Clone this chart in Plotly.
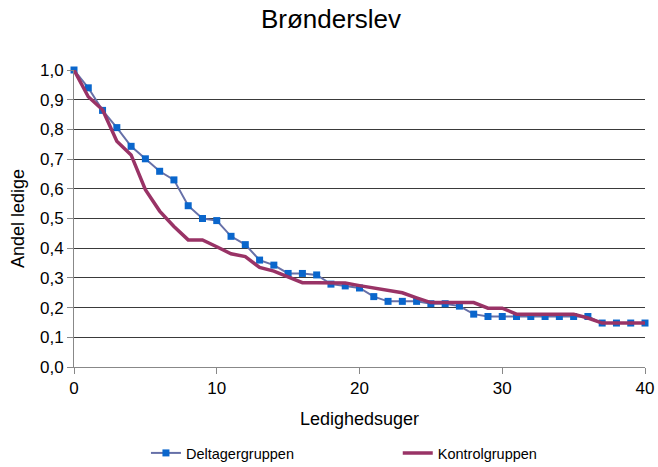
import plotly.graph_objects as go

# Ledighedsuger 0..40
weeks = list(range(41))

deltager = [1.0, 0.94, 0.864, 0.806, 0.743, 0.701, 0.659, 0.63, 0.543, 0.5,
            0.493, 0.44, 0.412, 0.36, 0.343, 0.315, 0.315, 0.31, 0.279, 0.273,
            0.266, 0.237, 0.221, 0.221, 0.221, 0.213, 0.213, 0.205, 0.178, 0.17,
            0.17, 0.17, 0.17, 0.17, 0.17, 0.17, 0.17, 0.148, 0.148, 0.148, 0.148]

kontrol = [1.0, 0.91, 0.866, 0.76, 0.714, 0.597, 0.525, 0.473, 0.428, 0.428,
           0.405, 0.381, 0.372, 0.335, 0.323, 0.302, 0.284, 0.284, 0.284, 0.283,
           0.274, 0.266, 0.258, 0.25, 0.233, 0.217, 0.217, 0.217, 0.217, 0.198,
           0.198, 0.178, 0.178, 0.178, 0.178, 0.178, 0.165, 0.148, 0.148, 0.148, 0.148]

y_ticks = [0.0, 0.1, 0.2, 0.3, 0.4, 0.5, 0.6, 0.7, 0.8, 0.9, 1.0]
x_ticks = [0, 10, 20, 30, 40]

fig = go.Figure()

fig.add_trace(
    go.Scatter(
        x=weeks,
        y=deltager,
        mode='lines+markers',
        name='Deltagergruppen',
        line=dict(color='#6670a8', width=2),
        marker=dict(color='#0a66cc', size=7, symbol='square'),
        cliponaxis=False,
        legend='legend',
    )
)

fig.add_trace(
    go.Scatter(
        x=weeks,
        y=kontrol,
        mode='lines',
        name='Kontrolgruppen',
        line=dict(color='#993366', width=3.5),
        cliponaxis=False,
        legend='legend2',
    )
)

# one legend per entry so the wide gap between them can be placed exactly;
# placed against the whole page so they don't squeeze the plot area
legend_style = dict(
    orientation='h',
    xanchor='left',
    yref='container',
    y=0.03,
    yanchor='middle',
    font=dict(size=14.5),
    itemwidth=30,
    bgcolor='rgba(0,0,0,0)',
)

fig.update_layout(
    width=658,
    height=467,
    paper_bgcolor='white',
    plot_bgcolor='white',
    separators=',.',
    font=dict(family='Liberation Sans, Arial, sans-serif', color='black'),
    title=dict(
        text='Brønderslev',
        x=0.503,
        xanchor='center',
        y=0.96,
        yanchor='middle',
        font=dict(size=26),
    ),
    margin=dict(l=74, r=13, t=70, b=100),
    xaxis=dict(
        range=[0, 40],
        tickvals=x_ticks,
        automargin=False,
        showgrid=False,
        zeroline=False,
        showline=True,
        linecolor='#888888',
        ticks='outside',
        ticklen=6,
        tickcolor='#888888',
        tickfont=dict(size=17),
        title=dict(text='Ledighedsuger', font=dict(size=18), standoff=14),
    ),
    yaxis=dict(
        range=[0, 1.0],
        tickvals=y_ticks,
        tickformat='.1f',
        automargin=False,
        showgrid=True,
        gridcolor='#3a3a3a',
        gridwidth=1,
        zeroline=False,
        showline=True,
        linecolor='#888888',
        ticks='outside',
        ticklen=6,
        tickcolor='#888888',
        tickfont=dict(size=17),
        title=dict(text='Andel ledige', font=dict(size=18), standoff=10),
    ),
    showlegend=True,
    legend=dict(legend_style, x=0.126),
    legend2=dict(legend_style, x=0.567),
)

# page body has an 8px default margin; drop it so the figure sits at 0,0
fig.write_html(
    "out.html",
    config=dict(displayModeBar=False),
    post_script="document.body.style.margin='0';",
)
